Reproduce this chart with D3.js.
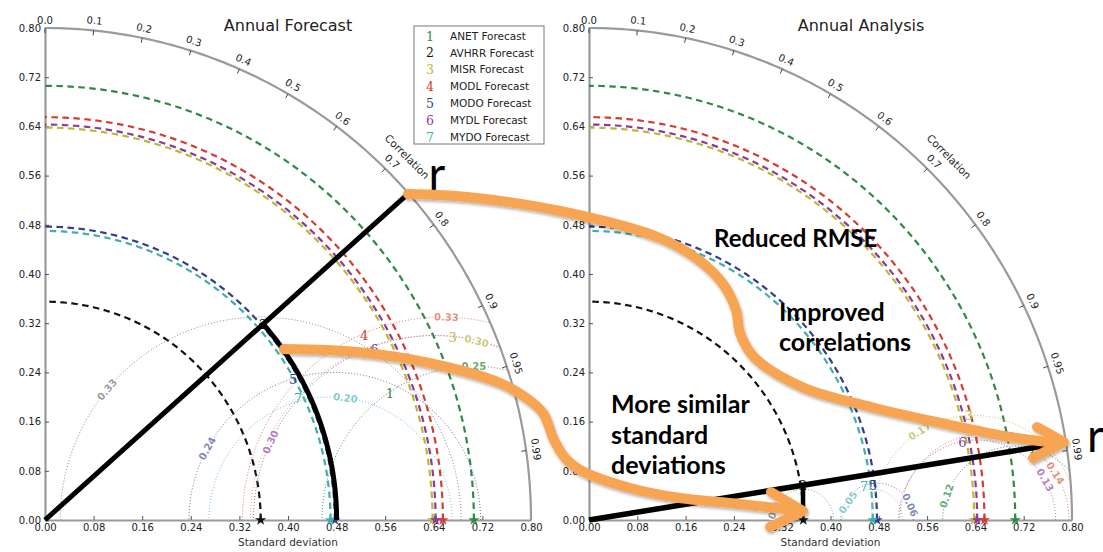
<!DOCTYPE html>
<html>
<head>
<meta charset="utf-8">
<script src="https://cdn.jsdelivr.net/npm/d3@7"></script>
<style>
  body { margin: 0; background: #fff; }
  svg { display: block; font-family: "DejaVu Sans", sans-serif; }
  .axis .domain { stroke: #9a9a9a; stroke-width: 2.2; }
  .axis .tick line { stroke: #555; stroke-width: 1; }
  .axis .tick text { fill: #222; font-size: 10px; font-family: "DejaVu Sans", sans-serif; }
  .note { font-family: Lato, "Open Sans", sans-serif; font-weight: 700; fill: #000; }
</style>
</head>
<body>
<svg id="chart" width="1103" height="552"></svg>
<script>
// ---- data -------------------------------------------------------------
const datasets = ["ANET Forecast", "AVHRR Forecast", "MISR Forecast", "MODL Forecast",
                  "MODO Forecast", "MYDL Forecast", "MYDO Forecast"];
const markers  = ["1", "2", "3", "4", "5", "6", "7"];
const colors   = ["#2f8a45", "#111111", "#b9b935", "#d63a30", "#353b8f", "#8c3a9e", "#3db0ad"];
const rmseColors = ["#4a9a5a", "#8a8a8a", "#c4c060", "#e07a66", "#6a70b0", "#a865b5", "#6cc4c0"];

// reference (observed) standard deviation of each dataset
const refStd = [0.706, 0.355, 0.638, 0.655, 0.477, 0.643, 0.470];

// forecast statistics
const forecastStd  = [0.604, 0.480, 0.734, 0.605, 0.468, 0.609, 0.461];
const forecastCorr = [0.940, 0.748, 0.914, 0.868, 0.873, 0.890, 0.904];
const forecastRmse = [0.25, 0.33, 0.30, 0.33, 0.24, 0.30, 0.20];
const forecastRmseLabelAngle = [90, 140, 76, 89, 151, 155, 83];

// analysis statistics
const analysisStd  = [0.744, 0.359, 0.652, 0.712, 0.474, 0.631, 0.459];
const analysisCorr = [0.9875, 0.9875, 0.965, 0.982, 0.993, 0.980, 0.993];
const analysisRmse = [0.12, 0.05, 0.17, 0.14, 0.06, 0.13, 0.05];
const analysisRmseLabelAngle = [161, 156, 122, 33, 24, 30, 145];

const stdTicks  = [0, 0.08, 0.16, 0.24, 0.32, 0.40, 0.48, 0.56, 0.64, 0.72, 0.80];
const corrTicks = [0, 0.1, 0.2, 0.3, 0.4, 0.5, 0.6, 0.7, 0.8, 0.9, 0.95, 0.99];
const maxStd = 0.8;

// freehand annotation arrows (page coordinates)
const arrowReduced = [[408,194],[467,197],[560,211],[660,238],[700,261],[723,284],[736,310],
                      [740,333],[754,357],[802,387],[871,407],[941,423],[1010,437],[1058,443]];
const arrowReducedHead = [[1037,427],[1064,442],[1033,458]];
const arrowStd = [[284,349],[357,352],[429,363],[500,383],[525,397],[543,413],[554,440],
                  [566,459],[582,471],[630,488],[680,498],[730,503],[767,507],[798,510]];
const arrowStdHead = [[771,492],[803,511],[770,527]];

// ---- drawing ----------------------------------------------------------
const svg = d3.select("#chart");
const defs = svg.append("defs");
const line = d3.line();

const shadow = defs.append("filter").attr("id", "soft-shadow")
  .attr("x", "-10%").attr("y", "-10%").attr("width", "120%").attr("height", "130%");
shadow.append("feDropShadow").attr("dx", 1).attr("dy", 2).attr("stdDeviation", 1.6)
  .attr("flood-color", "#000").attr("flood-opacity", 0.3);

const corrFormat = c => (c === 0 ? "0.0" : String(c));

function drawPanel(cfg) {
  const x = d3.scaleLinear().domain([0, maxStd]).range([cfg.left, cfg.left + cfg.width]);
  const y = d3.scaleLinear().domain([0, maxStd]).range([cfg.base, cfg.base - cfg.height]);
  const polar = (s, c) => [x(s * c), y(s * Math.sqrt(Math.max(0, 1 - c * c)))];
  const ring = (cx, r, a0, a1, n = 160) => d3.range(n + 1).map(i => {
    const a = a0 + (a1 - a0) * i / n;
    return [x(cx + r * Math.cos(a)), y(r * Math.sin(a))];
  });

  const g = svg.append("g");
  const clipId = "quad-" + cfg.key;
  defs.append("clipPath").attr("id", clipId).append("path")
    .attr("d", line([[x(0), y(0)], ...ring(0, maxStd, 0, Math.PI / 2)]) + "Z");

  // title
  g.append("text").attr("x", cfg.titleX).attr("y", 31).attr("text-anchor", "middle")
    .attr("font-size", 16).attr("fill", "#222").text(cfg.title);

  // std-dev axes
  g.append("g").attr("class", "axis").attr("transform", `translate(0,${y(0)})`)
    .call(d3.axisBottom(x).tickValues(stdTicks).tickFormat(d3.format(".2f"))
      .tickSize(-4).tickSizeOuter(0).tickPadding(4));
  g.append("g").attr("class", "axis").attr("transform", `translate(${x(0)},0)`)
    .call(d3.axisLeft(y).tickValues(stdTicks).tickFormat(d3.format(".2f"))
      .tickSize(-4).tickSizeOuter(0).tickPadding(4));
  g.append("text").attr("x", x(0.4)).attr("y", 546).attr("text-anchor", "middle")
    .attr("font-size", 10.5).attr("fill", "#333").text("Standard deviation");

  // outer correlation arc with ticks and labels
  g.append("path").attr("d", line(ring(0, maxStd, 0, Math.PI / 2)))
    .attr("fill", "none").attr("stroke", "#9a9a9a").attr("stroke-width", 2.2);
  corrTicks.forEach(c => {
    const th = Math.acos(c);
    const p0 = polar(maxStd, c), p1 = polar(maxStd - 0.008, c);
    g.append("line").attr("x1", p0[0]).attr("y1", p0[1]).attr("x2", p1[0]).attr("y2", p1[1])
      .attr("stroke", "#444");
    const off = c === 0 ? 8 : 10;
    const lx = p0[0] + off * Math.cos(th), ly = p0[1] - off * Math.sin(th);
    g.append("text").attr("transform", `translate(${lx},${ly}) rotate(${90 - th * 180 / Math.PI})`)
      .attr("text-anchor", "middle").attr("dy", "0.35em").attr("font-size", 10)
      .attr("fill", "#222").text(corrFormat(c));
  });
  {
    const c = 0.71, th = Math.acos(c), p0 = polar(maxStd, c);
    const lx = p0[0] + 24 * Math.cos(th), ly = p0[1] - 24 * Math.sin(th);
    g.append("text").attr("transform", `translate(${lx},${ly}) rotate(${90 - th * 180 / Math.PI})`)
      .attr("text-anchor", "middle").attr("dy", "0.35em").attr("font-size", 10.5)
      .attr("fill", "#222").text("Correlation");
  }

  // reference std-dev arcs (dashed)
  refStd.forEach((s, i) => {
    g.append("path").attr("d", line(ring(0, s, 0, Math.PI / 2)))
      .attr("fill", "none").attr("stroke", colors[i]).attr("stroke-width", 2.2)
      .attr("stroke-dasharray", "6.5,4.5");
  });

  // centred RMS difference contours (dotted) and their labels
  const rg = g.append("g").attr("clip-path", `url(#${clipId})`);
  cfg.rmse.forEach((r, i) => {
    rg.append("path").attr("d", line(ring(refStd[i], r, 0, Math.PI)))
      .attr("fill", "none").attr("stroke", rmseColors[i]).attr("stroke-width", 1)
      .attr("stroke-dasharray", "1,2");
  });
  cfg.rmse.forEach((r, i) => {
    const a = cfg.rmseAngle[i] * Math.PI / 180;
    const lx = x(refStd[i] + r * Math.cos(a)), ly = y(r * Math.sin(a));
    g.append("text").attr("transform", `translate(${lx},${ly}) rotate(${90 - cfg.rmseAngle[i]})`)
      .attr("text-anchor", "middle").attr("dy", "0.35em")
      .attr("font-size", 10).attr("font-weight", "bold")
      .attr("fill", rmseColors[i]).attr("fill-opacity", 0.85)
      .attr("stroke", "#fff").attr("stroke-width", 3).attr("paint-order", "stroke")
      .text(d3.format(".2f")(r));
  });

  // reference stars
  refStd.forEach((s, i) => {
    g.append("path").attr("d", d3.symbol(d3.symbolStar, 40)())
      .attr("transform", `translate(${x(s)},${y(0)})`).attr("fill", colors[i]);
  });

  // model points (numbered markers)
  cfg.std.forEach((s, i) => {
    const p = polar(s, cfg.corr[i]);
    g.append("text").attr("x", p[0]).attr("y", p[1]).attr("text-anchor", "middle")
      .attr("dy", "0.36em").attr("font-family", "'DejaVu Serif', serif")
      .attr("font-size", 13).attr("fill", colors[i]).text(markers[i]);
  });

  return { x, y, polar };
}

const left = drawPanel({
  key: "fc", title: "Annual Forecast", left: 45, base: 520, width: 486, height: 492, titleX: 288,
  std: forecastStd, corr: forecastCorr, rmse: forecastRmse, rmseAngle: forecastRmseLabelAngle
});
const right = drawPanel({
  key: "an", title: "Annual Analysis", left: 589, base: 520, width: 483, height: 492, titleX: 861,
  std: analysisStd, corr: analysisCorr, rmse: analysisRmse, rmseAngle: analysisRmseLabelAngle
});

// legend
const lg = svg.append("g").attr("transform", "translate(414,26)");
lg.append("rect").attr("width", 130).attr("height", 118)
  .attr("fill", "#fff").attr("stroke", "#777").attr("stroke-width", 1);
datasets.forEach((name, i) => {
  const yy = 10 + i * 16.9;
  lg.append("text").attr("x", 16).attr("y", yy).attr("dy", "0.36em").attr("text-anchor", "middle")
    .attr("font-family", "'DejaVu Serif', serif").attr("font-size", 12.5)
    .attr("fill", colors[i]).text(markers[i]);
  lg.append("text").attr("x", 36).attr("y", yy).attr("dy", "0.35em")
    .attr("font-size", 10.5).attr("fill", "#222").text(name);
});

// ---- annotations --------------------------------------------------------
const ann = svg.append("g");
const iAvhrr = 1;

// forecast: correlation ray through point 2 and its std-dev arc
const fCorr = forecastCorr[iAvhrr], fStd = forecastStd[iAvhrr];
const rLeft = left.polar(maxStd, fCorr);
ann.append("path").attr("d", line([left.polar(0, fCorr), rLeft]))
  .attr("stroke", "#000").attr("stroke-width", 5).attr("fill", "none");
const fTh = Math.acos(fCorr);
ann.append("path").attr("d", line(d3.range(61).map(k => {
    const a = fTh * (1 - k / 60);
    return [left.x(fStd * Math.cos(a)), left.y(fStd * Math.sin(a))];
  })))
  .attr("stroke", "#000").attr("stroke-width", 5).attr("fill", "none");

// analysis: correlation ray through point 2 and its std-dev drop
const aCorr = analysisCorr[iAvhrr], aStd = analysisStd[iAvhrr];
const rRight = right.polar(maxStd, aCorr);
ann.append("path").attr("d", line([right.polar(0, aCorr), rRight]))
  .attr("stroke", "#000").attr("stroke-width", 5.5).attr("fill", "none");
const p2 = right.polar(aStd, aCorr);
ann.append("path").attr("d", line([p2, [p2[0], right.y(0.012)]]))
  .attr("stroke", "#000").attr("stroke-width", 4.5).attr("fill", "none");

// "r" markers
ann.append("text").attr("x", rLeft[0] + 20).attr("y", rLeft[1] - 3)
  .attr("font-family", "Lato, 'Open Sans', sans-serif").attr("font-size", 46).text("r");
ann.append("text").attr("x", rRight[0] + 21).attr("y", rRight[1] + 10)
  .attr("font-family", "Lato, 'Open Sans', sans-serif").attr("font-size", 46).text("r");

// orange arrows
const curve = d3.line().curve(d3.curveCatmullRom.alpha(0.5));
const og = ann.append("g").attr("filter", "url(#soft-shadow)")
  .attr("fill", "none").attr("stroke", "#f8a553").attr("stroke-width", 10)
  .attr("stroke-linecap", "round").attr("stroke-linejoin", "round");
og.append("path").attr("d", curve(arrowReduced));
og.append("path").attr("d", line(arrowReducedHead));
og.append("path").attr("d", curve(arrowStd));
og.append("path").attr("d", line(arrowStdHead));

// text notes
const notes = [
  ["Reduced RMSE", 714, 247, 24],
  ["Improved", 779, 321, 25],
  ["correlations", 779, 351, 25],
  ["More similar", 611, 413, 25],
  ["standard", 611, 444, 25],
  ["deviations", 611, 474, 25]
];
notes.forEach(([t, xx, yy, fs]) => {
  ann.append("text").attr("class", "note").attr("x", xx).attr("y", yy)
    .attr("font-size", fs).text(t);
});
</script>
</body>
</html>
